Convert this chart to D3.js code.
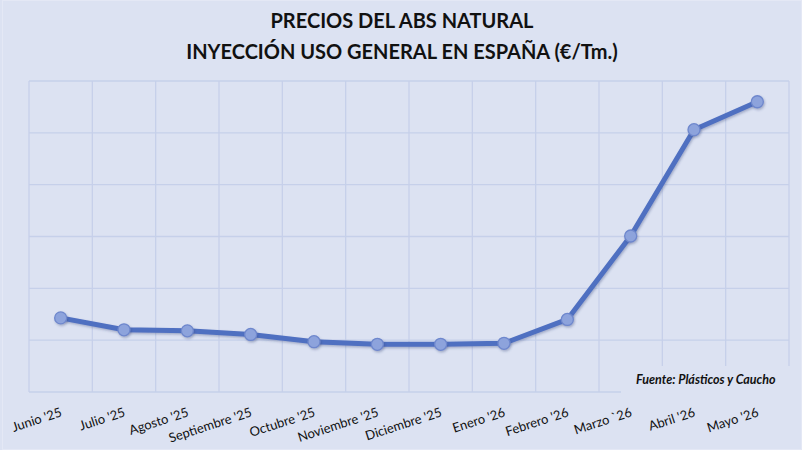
<!DOCTYPE html>
<meta charset="utf-8">
<style>
body {
  margin: 0;
  background: #dce2f2;
  font-family: Lato, "Open Sans", sans-serif;
}
.title {
  font-weight: bold;
  font-size: 20px;
  fill: #111;
  text-anchor: middle;
}
.grid line {
  stroke: #c6d0ea;
  stroke-width: 1.3px;
}
.xlab {
  font-size: 13px;
  fill: #111;
  text-anchor: end;
}
.source {
  font-size: 12.5px;
  font-weight: bold;
  font-style: italic;
  fill: #111;
}
</style>
<body>
<script src="https://cdn.jsdelivr.net/npm/d3@7"></script>
<script>
var months = ["Junio '25", "Julio '25", "Agosto '25", "Septiembre '25", "Octubre '25",
  "Noviembre '25", "Diciembre '25", "Enero '26", "Febrero '26", "Marzo `26", "Abril '26", "Mayo '26"];
// precio estimado €/Tm (el original no muestra escala)
var prices = [1643, 1620, 1618, 1611, 1597, 1592, 1592, 1594, 1640, 1801, 2006, 2060];
var yTicks = [1500, 1600, 1700, 1800, 1900, 2000, 2100];
var titleLines = ["PRECIOS DEL ABS NATURAL", "INYECCIÓN USO GENERAL EN ESPAÑA (€/Tm.)"];

var W = 802, H = 450;
var plotL = 29, plotR = 789, plotT = 81, plotB = 392;

var svg = d3.select("body").append("svg").attr("width", W).attr("height", H);

svg.append("rect").attr("width", W).attr("height", H).attr("fill", "#dce2f2");
svg.append("rect").attr("x", 2.5).attr("y", 0.5).attr("width", W - 3).attr("height", H - 1)
  .attr("fill", "none").attr("stroke", "#e4e8f5");

svg.selectAll(".title").data(titleLines).enter().append("text")
  .attr("class", "title")
  .attr("x", 402)
  .attr("y", function(d, i) { return 28 + i * 31; })
  .text(function(d) { return d; });

var x = d3.scaleBand().domain(months).range([plotL, plotR]);
var y = d3.scaleLinear().domain([1500, 2100]).range([plotB, plotT]);

var grid = svg.append("g").attr("class", "grid");
grid.selectAll(".h").data(yTicks).enter().append("line")
  .attr("x1", plotL).attr("x2", plotR)
  .attr("y1", function(d) { return y(d); }).attr("y2", function(d) { return y(d); });
grid.selectAll(".v").data(months.concat(["end"])).enter().append("line")
  .attr("x1", function(d, i) { return plotL + i * x.bandwidth(); })
  .attr("x2", function(d, i) { return plotL + i * x.bandwidth(); })
  .attr("y1", plotT).attr("y2", plotB);

// caja de la fuente tapa la rejilla
svg.append("rect").attr("x", 621).attr("y", 366).attr("width", 175).attr("height", 30)
  .attr("fill", "#dce2f2");
svg.append("text").attr("class", "source")
  .attr("x", 636).attr("y", 384)
  .text("Fuente: Plásticos y Caucho");

var defs = svg.append("defs");
var f = defs.append("filter").attr("id", "sh").attr("x", "-50%").attr("y", "-50%")
  .attr("width", "200%").attr("height", "200%");
f.append("feDropShadow").attr("dx", 1).attr("dy", 1.5).attr("stdDeviation", 1.2)
  .attr("flood-color", "#34457a").attr("flood-opacity", 0.35);

var cx = function(d, i) { return x(months[i]) + x.bandwidth() / 2; };

var line = d3.line()
  .x(function(d, i) { return cx(d, i); })
  .y(function(d) { return y(d); });

svg.append("path").datum(prices)
  .attr("d", line)
  .attr("fill", "none")
  .attr("stroke", "#4f6fc1")
  .attr("stroke-width", 5)
  .attr("stroke-linejoin", "round")
  .attr("filter", "url(#sh)");

svg.selectAll(".dot").data(prices).enter().append("circle")
  .attr("cx", cx)
  .attr("cy", function(d) { return y(d); })
  .attr("r", 6)
  .attr("fill", "#8da3dc")
  .attr("stroke", "#6e87cd")
  .attr("stroke-width", 1.3)
  .attr("filter", "url(#sh)");

svg.selectAll(".xlab").data(months).enter().append("text")
  .attr("class", "xlab")
  .attr("transform", function(d) {
    return "translate(" + (x(d) + x.bandwidth() / 2 + 2) + ",416) rotate(-18)";
  })
  .text(function(d) { return d; });
</script>
</body>
